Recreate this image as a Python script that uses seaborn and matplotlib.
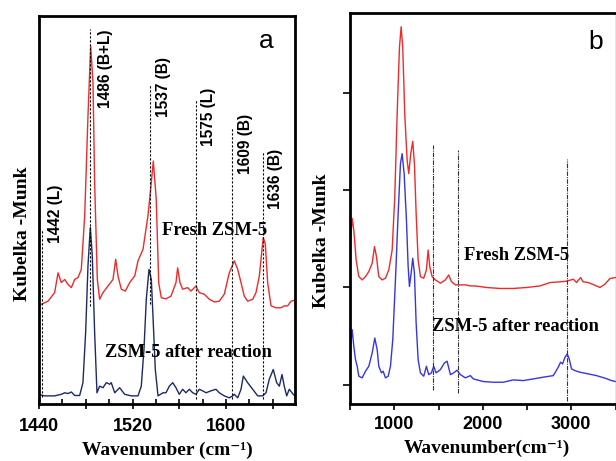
import matplotlib
matplotlib.use("Agg")
import matplotlib.pyplot as plt
from matplotlib.ticker import MultipleLocator
import seaborn as sns

# panel a: pyridine region (wavenumber, Kubelka-Munk, arbitrary units)
fresh_a_x = [1439.1, 1447.7, 1453.4, 1456.3, 1459.1, 1462.0, 1464.8, 1467.7, 1470.5, 1473.4,
             1476.2, 1479.1, 1481.9, 1484.2, 1486.2, 1487.6, 1489.9, 1491.9, 1494.7, 1499.0,
             1503.3, 1505.6, 1507.6, 1510.4, 1513.8, 1517.6, 1521.9, 1524.7, 1529.0, 1533.2,
             1535.5, 1537.8, 1540.3, 1542.4, 1544.6, 1548.6, 1552.9, 1557.2, 1558.6, 1560.6,
             1562.9, 1567.2, 1570.0, 1574.3, 1577.1, 1581.4, 1585.7, 1590.0, 1594.2, 1598.5,
             1602.8, 1607.1, 1610.0, 1612.8, 1615.6, 1618.5, 1622.8, 1625.6, 1628.5, 1630.8,
             1631.9, 1633.6, 1635.6, 1638.5, 1642.7, 1647.0, 1649.8, 1652.7, 1655.6, 1659.8]
fresh_a_y = [25.3, 26.5, 28.7, 33.8, 31.3, 32.1, 30.8, 30.0, 32.1, 32.6,
             34.7, 48.5, 74.2, 92.3, 82.8, 57.0, 32.1, 27.0, 28.7, 30.4,
             32.1, 37.3, 33.0, 29.6, 29.1, 31.3, 33.0, 36.9, 39.9, 48.5,
             55.3, 62.6, 52.8, 31.3, 27.4, 27.1, 27.8, 31.3, 35.1, 31.3,
             29.6, 30.0, 29.1, 30.4, 28.7, 28.3, 27.0, 26.3, 26.5, 28.3,
             33.8, 36.9, 34.7, 31.3, 27.8, 26.5, 27.0, 28.7, 33.0, 39.9,
             42.9, 41.2, 31.3, 25.3, 24.8, 24.8, 25.3, 25.3, 26.5, 26.8]

after_a_x = [1439.1, 1444.9, 1453.4, 1459.1, 1462.0, 1464.8, 1467.7, 1470.5, 1474.8, 1477.6,
             1479.9, 1481.9, 1483.9, 1485.6, 1487.6, 1489.6, 1491.9, 1494.7, 1497.6, 1500.5,
             1501.8, 1504.8, 1509.0, 1513.3, 1519.0, 1524.7, 1527.5, 1529.8, 1531.8, 1534.1,
             1536.1, 1537.5, 1539.5, 1541.8, 1546.1, 1548.6, 1551.5, 1554.4, 1557.2, 1560.0,
             1562.9, 1565.7, 1568.6, 1571.5, 1574.3, 1577.1, 1580.0, 1582.9, 1587.1, 1591.4,
             1594.2, 1598.5, 1602.8, 1605.7, 1607.1, 1610.0, 1612.8, 1614.8, 1618.5, 1622.8,
             1627.1, 1631.4, 1634.2, 1637.0, 1640.4, 1643.3, 1645.6, 1647.9, 1649.8, 1651.9,
             1654.1, 1656.4, 1658.7]
after_a_y = [2.5, 2.1, 2.1, 2.5, 2.9, 2.7, 3.1, 2.2, 2.2, 5.5,
             18.4, 35.6, 45.5, 38.1, 18.4, 2.9, 4.6, 4.2, 5.5, 5.1,
             5.5, 2.9, 4.2, 2.5, 2.1, 2.1, 4.6, 14.1, 27.0, 34.7,
             32.1, 22.7, 8.9, 2.1, 2.9, 2.9, 4.6, 5.5, 4.2, 2.5,
             3.8, 2.9, 3.8, 2.9, 2.5, 3.8, 3.4, 2.9, 3.4, 3.8,
             2.9, 2.1, 1.6, 2.1, 2.5, 1.6, 3.8, 7.2, 5.5, 3.8,
             2.1, 2.1, 2.9, 6.4, 8.9, 5.5, 4.6, 7.6, 4.6, 2.1,
             3.8, 2.9, 2.1]

band_pos = [1442.6, 1483.9, 1534.7, 1574.3, 1605.1, 1631.3]
band_labels = ["1442 (L)", "1486 (B+L)", "1537 (B)", "1575 (L)", "1609 (B)", "1636 (B)"]
band_top = [44.8, 96.6, 82.4, 78.5, 71.2, 65.2]
band_bottom = [1.8, 25.3, 25.7, 1.2, 1.2, 1.2]
label_x = [1447.7, 1490.5, 1540.5, 1578.6, 1610.0, 1635.6]
label_y = [41.5, 76.4, 74.0, 66.5, 59.2, 50.2]

a_ticks = [1440, 1480, 1520, 1560, 1600, 1640]
a_tick_labels = ["1440", "", "1520", "", "1600", ""]

# panel b: full spectrum
fresh_b_x = [500, 505.7, 524.8, 542.9, 569.7, 599.3, 637.7, 674.9, 712.2, 750.6,
             776.5, 799.1, 825.1, 863.4, 900.7, 937.9, 976.3, 1005.6, 1032.7, 1058.7,
             1077.9, 1095.9, 1118.5, 1145.6, 1163.7, 1186.2, 1208.8, 1228.0, 1247.2, 1269.8,
             1295.7, 1333.0, 1363.4, 1382.6, 1400.7, 1427.8, 1465.0, 1521.4, 1577.9, 1615.1,
             1645.6, 1690.7, 1747.2, 1803.6, 1860.0, 1916.5, 2044, 2195, 2345, 2495,
             2647, 2760, 2872, 2947, 3023, 3060, 3105, 3135, 3192, 3267,
             3324, 3380, 3437, 3500]
fresh_b_y = [1.2, 1.486, 1.708, 1.588, 1.28, 1.11, 1.076, 1.11, 1.162, 1.247,
             1.418, 1.315, 1.11, 1.076, 1.093, 1.178, 1.383, 1.93, 2.784, 3.467,
             3.678, 3.467, 2.784, 2.305, 2.169, 2.374, 2.5, 2.271, 1.759, 1.28,
             1.11, 1.093, 1.178, 1.383, 1.213, 1.11, 1.076, 1.042, 1.076, 1.127,
             1.059, 1.025, 1.025, 1.025, 1.014, 1.014, 0.998, 0.988, 0.988, 0.998,
             1.014, 1.049, 1.056, 1.063, 1.083, 1.049, 1.1, 1.056, 1.049, 1.021,
             0.998, 1.032, 1.09, 1.1]

after_b_x = [500, 505.7, 524.8, 542.9, 562.1, 581.3, 599.3, 637.7, 674.9, 712.2,
             750.6, 779.9, 807.0, 825.1, 855.5, 874.7, 900.7, 931.2, 957.1, 983.1,
             1013.5, 1044.0, 1070.0, 1089.2, 1111.7, 1137.7, 1156.9, 1171.6, 1190.7, 1208.8,
             1228.0, 1247.2, 1269.8, 1295.7, 1333.0, 1363.4, 1389.4, 1419.9, 1445.8, 1472.9,
             1521.4, 1566.6, 1597.0, 1634.3, 1671.6, 1709.9, 1747.2, 1803.6, 1860.0, 1893.9,
             2006.8, 2119.6, 2232.5, 2345, 2458, 2571, 2684, 2797, 2853, 2879,
             2902, 2929, 2955, 2977, 3003, 3042, 3098, 3192, 3286, 3380,
             3455, 3500]
after_b_y = [0.1, 0.393, 0.564, 0.393, 0.256, 0.188, 0.086, 0.069, 0.137, 0.188,
             0.325, 0.478, 0.359, 0.188, 0.12, 0.137, 0.069, 0.086, 0.188, 0.461,
             1.076, 1.759, 2.271, 2.374, 2.169, 1.691, 1.213, 1.008, 1.144, 1.298,
             1.144, 0.632, 0.256, 0.12, 0.086, 0.188, 0.102, 0.12, 0.188, 0.12,
             0.154, 0.222, 0.24, 0.102, 0.12, 0.148, 0.102, 0.069, 0.092, 0.058,
             0.031, 0.024, 0.024, 0.048, 0.041, 0.058, 0.076, 0.092, 0.178, 0.23,
             0.212, 0.281, 0.315, 0.263, 0.161, 0.143, 0.127, 0.11, 0.092, 0.066,
             0.041, 0.031]

mark_pos = [1440, 1720, 2947]
mark_top = [2.459, 2.408, 2.32]
mark_bottom = [-0.051, -0.085, -0.174]

sns.set_style("ticks")
plt.rcParams['font.family'] = ['Liberation Sans', 'DejaVu Sans']
plt.rcParams.update({'text.color': 'black', 'axes.labelcolor': 'black',
                     'xtick.color': 'black', 'ytick.color': 'black'})
serif = ['Liberation Serif', 'DejaVu Serif']

red = '#ec2b2b'
navy = '#1d2a66'
blue = '#3535e2'

fig = plt.figure(figsize=(6.16, 4.61), dpi=100)
ax_a = fig.add_axes([0.0633, 0.1236, 0.4156, 0.8417])
ax_b = fig.add_axes([0.5682, 0.1236, 0.4310, 0.8482])

# ---- panel a
sns.lineplot(x=fresh_a_x, y=fresh_a_y, ax=ax_a, color=red, lw=1.0, estimator=None, sort=False)
sns.lineplot(x=after_a_x, y=after_a_y, ax=ax_a, color=navy, lw=1.0, estimator=None, sort=False)
ax_a.vlines(band_pos, band_bottom, band_top, colors='black', linestyles=(0, (2, 1.6)), lw=0.8)
for lx, ly, lab in zip(label_x, label_y, band_labels):
    ax_a.text(lx, ly, lab, rotation=90, ha='left', va='bottom', fontsize=11.2, fontweight='bold')
ax_a.text(1545.2, 44.8, "Fresh ZSM-5", family=serif, fontweight='bold', fontsize=13.3, va='center')
ax_a.text(1496.5, 13.4, "ZSM-5 after reaction", family=serif, fontweight='bold', fontsize=13.3, va='center')
ax_a.text(0.889, 0.935, "a", transform=ax_a.transAxes, fontsize=19, ha='center', va='center')

ax_a.set_xlim(1440, 1659)
ax_a.set_ylim(0, 100)
ax_a.set_xticks(a_ticks)
ax_a.set_xticklabels(a_tick_labels)
ax_a.xaxis.set_minor_locator(MultipleLocator(20))
ax_a.set_yticks([])
ax_a.tick_params(axis='x', which='major', direction='inout', length=7.5, width=1.2,
                 labelsize=13, pad=6)
ax_a.tick_params(axis='x', which='minor', direction='in', length=3.5, width=1.2)
for lab in ax_a.get_xticklabels():
    lab.set_fontweight('bold')
ax_a.set_xlabel("Wavenumber (cm⁻¹)", family=serif, fontweight='bold', fontsize=14)
ax_a.set_ylabel("Kubelka -Munk", family=serif, fontweight='bold', fontsize=14)
ax_a.xaxis.set_label_coords(0.502, -0.098)
ax_a.yaxis.set_label_coords(-0.03, 0.438)

# ---- panel b
sns.lineplot(x=fresh_b_x, y=fresh_b_y, ax=ax_b, color=red, lw=1.0, estimator=None, sort=False)
sns.lineplot(x=after_b_x, y=after_b_y, ax=ax_b, color=blue, lw=1.0, estimator=None, sort=False)
ax_b.vlines(mark_pos, mark_bottom, mark_top, colors='#333333', linestyles=(0, (4, 1, 1, 1)), lw=0.8)
ax_b.text(1792, 1.329, "Fresh ZSM-5", family=serif, fontweight='bold', fontsize=13.3, va='center')
ax_b.text(1431, 0.601, "ZSM-5 after reaction", family=serif, fontweight='bold', fontsize=13.3, va='center')
ax_b.text(0.925, 0.926, "b", transform=ax_b.transAxes, fontsize=19, ha='center', va='center')

ax_b.set_xlim(500, 3500)
ax_b.set_ylim(-0.2, 3.82)
ax_b.set_xticks([1000, 2000, 3000])
ax_b.xaxis.set_minor_locator(MultipleLocator(500))
ax_b.set_yticks([0, 1, 2, 3])
ax_b.set_yticklabels([])
ax_b.tick_params(axis='x', which='major', direction='out', length=4.5, width=1.2,
                 labelsize=13, pad=4)
ax_b.tick_params(axis='x', which='minor', direction='out', length=4, width=1.2)
ax_b.tick_params(axis='y', which='major', direction='out', length=5, width=1.2)
for lab in ax_b.get_xticklabels():
    lab.set_fontweight('bold')
ax_b.set_xlabel("Wavenumber(cm⁻¹)", family=serif, fontweight='bold', fontsize=14)
ax_b.set_ylabel("Kubelka -Munk", family=serif, fontweight='bold', fontsize=14)
ax_b.xaxis.set_label_coords(0.515, -0.092)
ax_b.yaxis.set_label_coords(-0.075, 0.418)

for ax in (ax_a, ax_b):
    for sp in ax.spines.values():
        sp.set_linewidth(2.0)
        sp.set_color('black')
ax_b.spines['right'].set_linewidth(1.0)
ax_b.spines['right'].set_color('#888888')

fig.savefig("out.png", dpi=100)
